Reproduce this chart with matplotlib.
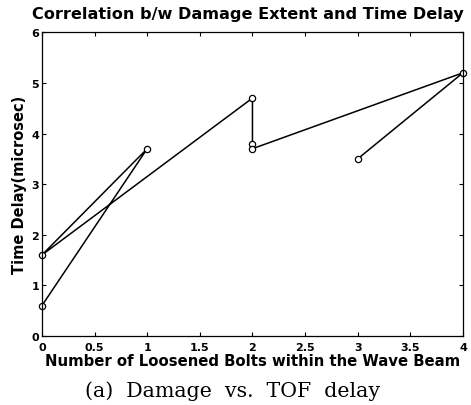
import matplotlib
matplotlib.use("Agg")
import matplotlib.pyplot as plt

# polyline 1: (0,0.6) -> (1,3.7) -> (0,1.6) -> (2,4.7) -> (2,3.8)
x1 = [0, 1, 0, 2, 2]
y1 = [0.6, 3.7, 1.6, 4.7, 3.8]
# polyline 2: (2,3.7) -> (4,5.2) -> (3,3.5)
x2 = [2, 4, 3]
y2 = [3.7, 5.2, 3.5]

xticks = [0, 0.5, 1, 1.5, 2, 2.5, 3, 3.5, 4]
xticklabels = ["0", "0.5", "1", "1.5", "2", "2.5", "3", "3.5", "4"]
yticks = [0, 1, 2, 3, 4, 5, 6]

plt.rcParams["font.family"] = ["DejaVu Sans"]
plt.rcParams["font.weight"] = "bold"

fig = plt.figure(figsize=(4.71, 4.06), dpi=100)
ax = fig.add_axes([0.089, 0.170, 0.894, 0.748])

for xs, ys in [(x1, y1), (x2, y2)]:
    ax.plot(xs, ys, color="black", lw=1.1, marker="o", ms=4.5,
            mfc="white", mec="black", mew=0.9, clip_on=False)

ax.set_xlim(0, 4)
ax.set_ylim(0, 6)
ax.set_xticks(xticks)
ax.set_xticklabels(xticklabels)
ax.set_yticks(yticks)
ax.tick_params(direction="in", length=3, width=0.8, labelsize=8, pad=2,
               top=True, right=True)
ax.tick_params(axis="x", pad=4)
for s in ax.spines.values():
    s.set_linewidth(0.9)

ax.set_title("Correlation b/w Damage Extent and Time Delay",
             fontsize=11.6, fontweight="bold", pad=10, x=0.49)
ax.set_xlabel("Number of Loosened Bolts within the Wave Beam",
              fontsize=10.7, fontweight="bold", labelpad=1)
ax.set_ylabel("Time Delay(microsec)", fontsize=10.5, fontweight="bold",
              labelpad=3)

fig.text(0.494, 0.012, "(a)  Damage  vs.  TOF  delay", ha="center",
         va="bottom", fontsize=14.8, fontweight="normal",
         family=["DejaVu Serif"])

fig.savefig("out.png", dpi=100)
